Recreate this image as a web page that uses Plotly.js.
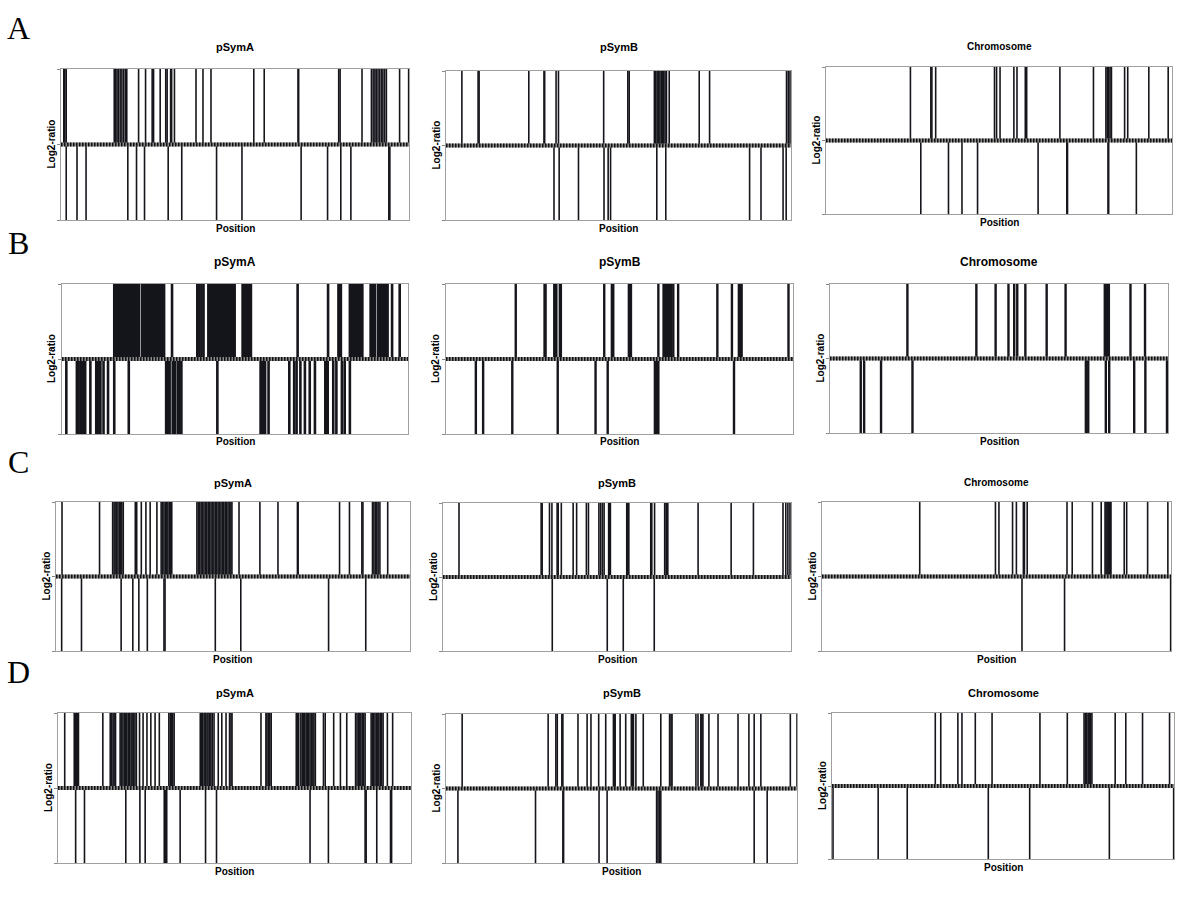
<!DOCTYPE html>
<html>
<head>
<meta charset="utf-8">
<script src="https://cdn.plot.ly/plotly-3.0.1.min.js"></script>
<style>
  body { margin: 0; background: #fff; }
  #plot { width: 1200px; height: 900px; }
</style>
</head>
<body>
<div id="plot"></div>
<script>
// positions along each replicon (% of length) where the log2-ratio is up (+) or down (-)
var aSymAUp = [0.8, 1.1, 1.5, 15.3, 15.7, 16.1, 16.5, 17.0, 17.5, 18.0, 18.5, 18.9, 22.3, 24.3, 26.2, 26.6, 28.5, 30.1, 30.5, 31.5, 31.8, 32.6, 38.8, 40.8, 43.1, 55.4, 58.4, 68.1, 68.3, 79.8, 80.2, 86.5, 89.2, 89.7, 90.2, 90.6, 91.1, 91.6, 92.1, 92.5, 93.0, 93.5, 97.3, 99.9];
var aSymADown = [1.5, 4.6, 7.2, 19.2, 21.7, 24.0, 30.8, 34.7, 44.7, 52.0, 69.0, 76.6, 80.4, 83.3, 94.2, 94.5];
var aSymBUp = [4.6, 9.3, 9.6, 24.0, 28.4, 28.6, 31.9, 32.6, 45.7, 52.7, 53.1, 60.4, 60.8, 61.2, 61.6, 62.0, 62.4, 62.8, 63.1, 63.5, 63.9, 64.7, 73.4, 76.4, 98.7, 99.2, 99.7];
var aSymBDown = [31.3, 32.8, 38.4, 45.8, 47.0, 47.7, 61.1, 63.7, 88.0, 91.3, 97.7, 98.6];
var aChrUp = [24.4, 30.3, 30.6, 31.7, 48.7, 49.3, 50.3, 54.3, 55.2, 57.6, 58.0, 67.6, 77.3, 80.9, 81.3, 81.7, 82.1, 82.5, 86.3, 87.2, 93.3, 98.9];
var aChrDown = [27.4, 35.4, 39.3, 43.8, 61.3, 69.6, 69.8, 81.5, 81.7, 89.7];

var bSymAUp = [15.1, 15.5, 15.9, 16.3, 16.7, 17.1, 17.5, 17.9, 18.3, 18.7, 18.9, 19.4, 19.8, 20.2, 20.6, 21.0, 21.4, 21.8, 22.2, 23.1, 23.5, 23.9, 24.3, 24.7, 25.1, 25.5, 26.1, 26.5, 27.1, 27.5, 27.9, 28.3, 28.7, 29.1, 29.5, 31.8, 39.1, 39.7, 40.3, 40.9, 42.3, 42.7, 43.1, 43.5, 43.9, 44.3, 44.7, 45.1, 45.5, 45.9, 46.3, 46.7, 47.1, 47.5, 47.9, 48.3, 48.7, 49.1, 49.5, 49.9, 52.2, 52.6, 53.0, 53.4, 53.8, 54.2, 54.6, 68.1, 76.9, 79.9, 80.3, 80.6, 83.2, 83.6, 84.0, 84.4, 84.8, 85.2, 85.6, 86.0, 86.4, 86.8, 89.2, 89.6, 90.0, 90.4, 91.3, 91.7, 92.1, 92.5, 92.9, 93.3, 93.7, 94.1, 95.4, 97.6];
var bSymADown = [1.25, 4.3, 4.6, 5.3, 5.7, 6.1, 6.4, 6.7, 8.2, 9.9, 10.3, 10.7, 11.1, 12.0, 13.3, 15.1, 19.3, 30.1, 30.5, 30.9, 31.1, 32.0, 32.7, 33.5, 33.9, 34.5, 44.9, 57.4, 57.7, 58.0, 58.7, 59.7, 65.7, 67.1, 67.8, 68.9, 70.2, 71.6, 73.1, 76.1, 76.4, 76.8, 78.4, 79.3, 80.9, 81.7, 83.2];
var bSymBUp = [20.1, 28.4, 28.7, 31.2, 31.5, 31.8, 32.8, 33.1, 45.6, 47.8, 48.2, 52.7, 53.0, 53.3, 61.2, 62.7, 63.1, 63.5, 63.9, 64.3, 64.9, 65.5, 66.9, 78.2, 82.4, 84.4, 84.8, 85.2, 98.7];
var bSymBDown = [8.6, 10.7, 19.1, 32.2, 43.1, 46.6, 60.2, 60.8, 61.2, 83.0];
var bChrUp = [22.9, 43.3, 49.0, 52.8, 54.5, 55.4, 57.8, 64.1, 69.7, 81.3, 81.6, 81.9, 82.2, 82.5, 88.9, 93.2];
var bChrDown = [9.1, 10.1, 15.1, 24.4, 75.7, 76.4, 81.6, 82.6, 90.0, 93.3, 99.7];

var cSymAUp = [1.7, 12.3, 16.0, 16.4, 16.7, 17.1, 17.5, 17.9, 18.3, 18.6, 19.0, 22.4, 22.8, 24.1, 25.4, 26.6, 28.5, 29.7, 30.1, 30.5, 30.9, 31.2, 31.6, 32.0, 32.4, 32.7, 39.8, 40.2, 40.6, 41.0, 41.4, 41.8, 42.2, 42.6, 43.0, 43.4, 43.8, 44.2, 44.6, 45.0, 45.4, 45.8, 46.2, 46.6, 47.0, 47.4, 47.8, 48.2, 48.6, 49.0, 49.4, 49.7, 51.7, 57.6, 62.7, 68.2, 68.4, 80.1, 82.9, 86.4, 86.7, 89.4, 89.8, 90.2, 90.6, 91.0, 91.5, 93.7];
var cSymADown = [1.6, 7.2, 18.4, 21.7, 23.4, 25.8, 30.5, 30.8, 45.0, 52.2, 77.0, 87.5];
var cSymBUp = [4.6, 28.2, 28.5, 30.6, 31.3, 32.8, 33.1, 34.0, 37.4, 38.4, 41.2, 41.8, 44.8, 45.3, 45.8, 46.3, 47.6, 47.8, 48.1, 52.8, 53.1, 53.4, 59.7, 60.0, 60.8, 63.7, 64.1, 64.3, 64.6, 73.3, 82.8, 89.2, 97.7, 98.5, 99.1, 99.7];
var cSymBDown = [31.4, 47.2, 51.8, 60.7];
var cChrUp = [28.0, 49.7, 50.7, 54.6, 55.7, 57.7, 58.0, 58.8, 70.2, 71.7, 77.5, 80.0, 81.1, 81.4, 81.7, 82.0, 82.3, 82.6, 82.8, 86.6, 87.3, 93.3, 99.1];
var cChrDown = [57.3, 69.5, 99.9];

var dSymAUp = [1.9, 4.6, 4.9, 5.2, 5.5, 5.8, 12.7, 14.8, 15.2, 15.6, 15.9, 16.3, 17.6, 18.0, 18.4, 18.8, 19.2, 19.5, 19.9, 20.3, 20.7, 21.0, 21.4, 21.8, 22.2, 23.1, 24.1, 25.2, 26.3, 27.5, 28.7, 31.4, 31.8, 32.2, 32.5, 32.9, 40.3, 40.7, 41.0, 41.4, 41.8, 42.2, 42.5, 42.9, 43.3, 43.7, 44.2, 45.4, 46.4, 47.6, 48.6, 49.0, 49.3, 57.5, 58.9, 59.2, 59.6, 60.0, 60.4, 67.5, 67.8, 68.2, 68.8, 69.2, 69.5, 69.9, 70.3, 70.7, 71.0, 71.4, 71.8, 72.2, 72.5, 72.9, 75.2, 75.7, 78.1, 80.0, 81.8, 84.3, 84.7, 85.1, 85.5, 85.8, 86.2, 86.6, 87.0, 88.7, 89.1, 89.4, 89.8, 90.2, 90.6, 90.9, 91.3, 91.7, 92.1, 93.3, 94.8];
var dSymADown = [5.0, 7.5, 19.2, 23.2, 24.7, 30.1, 30.5, 30.8, 34.6, 41.8, 44.9, 71.4, 76.6, 87.0, 87.3, 90.3, 94.2, 94.5];
var dSymBUp = [4.6, 29.1, 31.3, 31.7, 33.0, 33.3, 37.6, 40.2, 41.3, 43.5, 45.5, 47.7, 47.9, 48.2, 49.6, 51.2, 52.8, 53.1, 53.4, 54.1, 56.2, 61.2, 63.7, 64.1, 64.4, 71.2, 71.8, 72.6, 72.9, 73.2, 74.9, 77.5, 83.2, 86.3, 87.8, 89.7, 98.1, 100];
var dSymBDown = [3.4, 25.5, 33.3, 33.5, 43.6, 45.9, 60.0, 60.4, 60.8, 61.2, 87.8, 91.5];
var dChrUp = [30.2, 31.8, 36.8, 38.0, 41.9, 46.8, 60.8, 68.8, 73.7, 74.1, 74.5, 74.9, 75.2, 75.6, 76.0, 82.8, 85.9, 90.8, 98.7];
var dChrDown = [0.3, 13.5, 22.0, 45.7, 57.8, 81.1, 99.9];

var rowLetters = ['A', 'B', 'C', 'D'];

// panel frames in page pixels: [left, right, top, bottom]
var panels = [
  {title: 'pSymA', up: aSymAUp, down: aSymADown, box: [61, 409, 69, 220], t: 47, lw: 1.6, fs: 11},
  {title: 'pSymB', up: aSymBUp, down: aSymBDown, box: [446, 791, 71, 220], t: 47, lw: 1.6, fs: 11},
  {title: 'Chromosome', up: aChrUp, down: aChrDown, box: [826, 1172, 67, 214], t: 46, lw: 1.6, fs: 10},
  {title: 'pSymA', up: bSymAUp, down: bSymADown, box: [62, 408, 284, 434], t: 262, lw: 2.6, fs: 12},
  {title: 'pSymB', up: bSymBUp, down: bSymBDown, box: [446, 793, 284, 434], t: 262, lw: 2.4, fs: 12},
  {title: 'Chromosome', up: bChrUp, down: bChrDown, box: [830, 1168, 284, 433], t: 262, lw: 2.4, fs: 12},
  {title: 'pSymA', up: cSymAUp, down: cSymADown, box: [56, 410, 502, 651], t: 483, lw: 1.6, fs: 11},
  {title: 'pSymB', up: cSymBUp, down: cSymBDown, box: [443, 791, 503, 651], t: 483, lw: 1.6, fs: 11},
  {title: 'Chromosome', up: cChrUp, down: cChrDown, box: [822, 1171, 502, 651], t: 482, lw: 1.6, fs: 10},
  {title: 'pSymA', up: dSymAUp, down: dSymADown, box: [58, 411, 713, 863], t: 693, lw: 1.6, fs: 11},
  {title: 'pSymB', up: dSymBUp, down: dSymBDown, box: [446, 797, 714, 863], t: 693, lw: 1.6, fs: 11},
  {title: 'Chromosome', up: dChrUp, down: dChrDown, box: [832, 1174, 713, 859], t: 693, lw: 1.6, fs: 11}
];

var W = 1200, H = 900;
function px(x) { return x / W; }
function py(y) { return 1 - y / H; }

function spikes(pos, h) {
  var xs = [], ys = [];
  pos.forEach(function (p) {
    xs.push(p, p, null);
    ys.push(0, h, null);
  });
  return {x: xs, y: ys};
}

var traces = [];
var layout = {
  width: W, height: H,
  margin: {l: 0, r: 0, t: 0, b: 0},
  paper_bgcolor: '#fff',
  plot_bgcolor: '#fff',
  showlegend: false,
  font: {family: 'Liberation Sans, Arial, sans-serif', color: '#000'},
  annotations: [],
  shapes: []
};

var labelFont = {family: 'Liberation Sans, Arial, sans-serif', size: 10, color: '#000', weight: 'bold'};

panels.forEach(function (p, i) {
  var n = i === 0 ? '' : String(i + 1);
  var xa = 'x' + n, ya = 'y' + n;
  var b = p.box;

  var up = spikes(p.up, 1);
  var dn = spikes(p.down, -1);
  traces.push({x: up.x, y: up.y, xaxis: xa, yaxis: ya, type: 'scatter', mode: 'lines',
    line: {color: '#15151c', width: p.lw}, hoverinfo: 'skip'});
  traces.push({x: dn.x, y: dn.y, xaxis: xa, yaxis: ya, type: 'scatter', mode: 'lines',
    line: {color: '#15151c', width: p.lw}, hoverinfo: 'skip'});

  layout['xaxis' + n] = {
    domain: [px(b[0]), px(b[1])], range: [0, 100], anchor: ya,
    showgrid: false, zeroline: false, showticklabels: false, ticks: '',
    showline: true, mirror: true, linecolor: '#a0a0a0', linewidth: 1, fixedrange: true
  };
  layout['yaxis' + n] = {
    domain: [py(b[3]), py(b[2])], range: [-1, 1], anchor: xa,
    showgrid: false, zeroline: false, showticklabels: false,
    tickvals: [-1, 0, 1], ticks: 'outside', ticklen: 3, tickcolor: '#888',
    showline: true, mirror: true, linecolor: '#a0a0a0', linewidth: 1, fixedrange: true
  };

  // the dotted zero line
  layout.shapes.push({type: 'line', xref: xa + ' domain', yref: ya, x0: 0, x1: 1, y0: 0, y1: 0,
    line: {color: '#8a8a8a', width: 4}});
  layout.shapes.push({type: 'line', xref: xa + ' domain', yref: ya, x0: 0, x1: 1, y0: 0, y1: 0,
    line: {color: '#111', width: 4, dash: '1.5px,1.5px'}});

  var cx = (b[0] + b[1]) / 2;
  layout.annotations.push({text: p.title, x: px(cx), y: py(p.t), xref: 'paper', yref: 'paper',
    showarrow: false, xanchor: 'center', yanchor: 'middle',
    font: {family: 'Liberation Sans, Arial, sans-serif', size: p.fs, color: '#000', weight: 'bold'}});
  layout.annotations.push({text: 'Position', x: px(cx), y: py(b[3] + 8), xref: 'paper', yref: 'paper',
    showarrow: false, xanchor: 'center', yanchor: 'middle', font: labelFont});
  layout.annotations.push({text: 'Log2-ratio', x: px(b[0] - 10), y: py((b[2] + b[3]) / 2),
    xref: 'paper', yref: 'paper', textangle: -90,
    showarrow: false, xanchor: 'center', yanchor: 'middle', font: labelFont});
});

var letterY = [28, 243, 462, 672];
rowLetters.forEach(function (l, r) {
  layout.annotations.push({text: l, x: px(18), y: py(letterY[r]), xref: 'paper', yref: 'paper',
    showarrow: false, xanchor: 'center', yanchor: 'middle',
    font: {family: 'Liberation Serif, Times New Roman, serif', size: 32, color: '#000'}});
});

Plotly.newPlot('plot', traces, layout, {staticPlot: true});
</script>
</body>
</html>
